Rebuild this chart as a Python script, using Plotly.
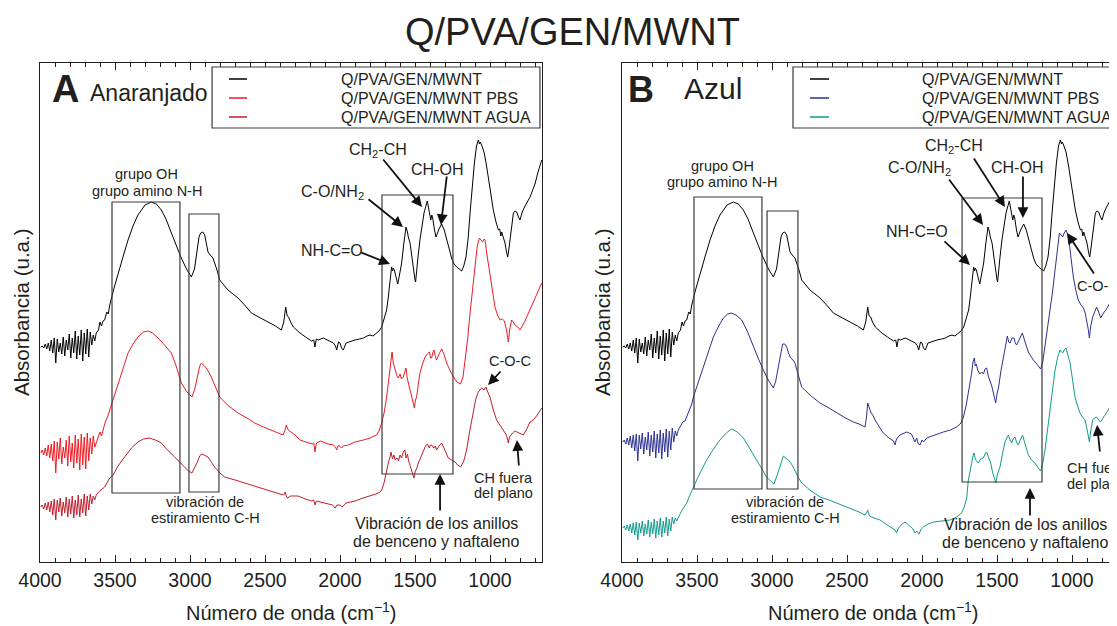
import plotly.graph_objects as go

# --- data: (wavenumber cm-1, absorbance a.u. with vertical offset) ---
espectro_base = [
    (3995, 215), (3985, 216), (3975, 214), (3965, 218), (3955, 213), (3945, 219), (3935, 211), (3925, 222),
    (3915, 209), (3905, 224), (3895, 199), (3885, 223), (3875, 210), (3865, 219), (3855, 208), (3845, 225),
    (3835, 206), (3825, 222), (3815, 212), (3805, 228), (3795, 204), (3785, 224), (3775, 209), (3765, 231),
    (3755, 203), (3745, 226), (3735, 207), (3725, 232), (3715, 201), (3705, 229), (3695, 208), (3685, 233),
    (3675, 205), (3665, 230), (3655, 217), (3645, 227), (3635, 221), (3625, 229), (3610, 232), (3600, 240),
    (3590, 236), (3580, 241), (3569, 242), (3555, 250), (3545, 248), (3535, 257), (3510, 272), (3480, 289),
    (3445, 306), (3413, 322), (3380, 336), (3347, 347), (3300, 357), (3258, 360), (3225, 358), (3191, 352),
    (3160, 343), (3124, 329), (3090, 316), (3058, 304), (3020, 292), (2991, 285), (2970, 293), (2958, 305),
    (2940, 325), (2929, 329), (2915, 330), (2902, 327), (2890, 318), (2880, 310), (2865, 307), (2847, 304),
    (2820, 292), (2802, 282), (2747, 272), (2680, 264), (2630, 256), (2591, 249), (2530, 244), (2480, 240),
    (2430, 236), (2391, 232), (2375, 240), (2362, 255), (2352, 246), (2342, 245), (2330, 240), (2311, 235),
    (2290, 232), (2267, 229), (2230, 225), (2190, 221), (2175, 222), (2167, 215), (2158, 223), (2145, 222),
    (2111, 224), (2080, 222), (2044, 219), (2030, 216), (2022, 212), (2010, 220), (2000, 219), (1990, 214),
    (1978, 212), (1960, 219), (1944, 220), (1900, 222), (1870, 223), (1844, 224), (1820, 226), (1800, 227),
    (1780, 226), (1756, 229), (1740, 231), (1722, 235), (1705, 243), (1689, 252), (1678, 265), (1667, 279),
    (1656, 295), (1650, 291), (1645, 294), (1638, 292), (1625, 282), (1615, 278), (1600, 290), (1589, 299),
    (1575, 318), (1560, 335), (1550, 330), (1545, 325), (1533, 319), (1520, 302), (1511, 292), (1500, 282),
    (1496, 280), (1490, 292), (1480, 305), (1467, 322), (1450, 340), (1440, 349), (1418, 361), (1405, 352),
    (1395, 342), (1388, 347), (1382, 344), (1370, 332), (1360, 325), (1340, 333), (1322, 338), (1305, 332),
    (1289, 322), (1270, 312), (1256, 304), (1240, 298), (1222, 295), (1189, 291), (1175, 296), (1160, 305),
    (1145, 325), (1133, 349), (1118, 378), (1104, 399), (1090, 416), (1078, 422), (1070, 418), (1065, 420),
    (1056, 417), (1040, 410), (1025, 398), (1011, 385), (995, 368), (978, 352), (960, 340), (944, 332),
    (935, 333), (928, 326), (922, 330), (910, 323), (900, 319), (890, 310), (882, 305), (875, 312),
    (867, 322), (855, 340), (844, 349), (833, 351), (822, 350), (810, 345), (800, 342), (785, 350),
    (770, 355), (733, 365), (700, 378), (680, 390), (655, 402),
]

espectro_pbs_naranja = [
    (3995, 109), (3985, 112), (3975, 107), (3965, 114), (3955, 106), (3945, 117), (3935, 104), (3925, 118),
    (3915, 101), (3905, 121), (3895, 89), (3885, 120), (3875, 103), (3865, 124), (3855, 98), (3845, 115),
    (3835, 104), (3825, 122), (3815, 96), (3805, 126), (3795, 100), (3785, 119), (3775, 94), (3765, 127),
    (3755, 99), (3745, 123), (3735, 92), (3725, 128), (3715, 97), (3705, 125), (3695, 93), (3685, 129),
    (3675, 101), (3665, 124), (3655, 108), (3645, 126), (3635, 115), (3625, 119), (3610, 124), (3600, 130),
    (3590, 126), (3580, 132), (3565, 140), (3550, 145), (3535, 152), (3510, 166), (3480, 179), (3445, 195),
    (3413, 209), (3380, 218), (3347, 225), (3310, 230), (3280, 231), (3250, 229), (3213, 224), (3170, 217),
    (3124, 209), (3090, 195), (3058, 179), (3020, 170), (2987, 165), (2970, 172), (2951, 185), (2935, 196),
    (2924, 199), (2910, 197), (2891, 194), (2875, 190), (2858, 185), (2830, 175), (2802, 165), (2750, 157),
    (2680, 149), (2620, 144), (2569, 139), (2510, 135), (2458, 132), (2420, 130), (2380, 127), (2368, 131),
    (2358, 137), (2345, 132), (2324, 130), (2300, 127), (2267, 122), (2230, 120), (2185, 118), (2175, 119),
    (2167, 110), (2160, 117), (2156, 119), (2130, 121), (2111, 120), (2080, 118), (2044, 117), (2030, 115),
    (2022, 112), (2010, 117), (1990, 114), (1978, 116), (1944, 117), (1900, 120), (1844, 122), (1800, 124),
    (1756, 127), (1740, 131), (1722, 139), (1705, 150), (1689, 165), (1678, 178), (1667, 192), (1660, 205),
    (1653, 210), (1645, 199), (1633, 192), (1620, 186), (1611, 184), (1600, 188), (1590, 183), (1578, 185),
    (1568, 190), (1560, 194), (1552, 184), (1544, 179), (1535, 172), (1522, 165), (1512, 160), (1504, 154),
    (1497, 162), (1489, 165), (1478, 178), (1467, 189), (1450, 198), (1433, 205), (1418, 208), (1404, 210),
    (1396, 204), (1389, 204), (1380, 210), (1373, 212), (1365, 206), (1356, 202), (1340, 208), (1322, 213),
    (1305, 207), (1289, 199), (1265, 191), (1244, 185), (1220, 180), (1196, 178), (1180, 185), (1167, 199),
    (1150, 222), (1133, 249), (1115, 276), (1100, 299), (1085, 316), (1071, 324), (1060, 322), (1049, 320),
    (1040, 323), (1033, 322), (1020, 307), (1004, 292), (985, 271), (967, 255), (950, 247), (933, 242),
    (918, 243), (904, 241), (890, 232), (878, 220), (868, 233), (856, 242), (845, 240), (833, 237),
    (815, 235), (800, 232), (770, 240), (733, 252), (700, 263), (655, 279),
]

espectro_agua_naranja = [
    (3995, 55), (3985, 57), (3975, 53), (3965, 59), (3955, 52), (3945, 60), (3935, 50), (3925, 61),
    (3915, 47), (3905, 63), (3895, 42), (3885, 62), (3875, 50), (3865, 64), (3855, 46), (3845, 60),
    (3835, 49), (3825, 65), (3815, 45), (3805, 63), (3795, 48), (3785, 66), (3775, 44), (3765, 62),
    (3755, 47), (3745, 67), (3735, 45), (3725, 63), (3715, 49), (3705, 68), (3695, 46), (3685, 66),
    (3675, 52), (3665, 68), (3655, 58), (3645, 66), (3635, 62), (3625, 67), (3610, 70), (3595, 72),
    (3580, 73), (3569, 75), (3550, 80), (3535, 84), (3513, 87), (3480, 96), (3436, 105), (3390, 114),
    (3347, 120), (3310, 123), (3273, 124), (3230, 122), (3191, 119), (3150, 112), (3102, 105), (3070, 100),
    (3036, 95), (3010, 91), (2987, 89), (2970, 94), (2951, 100), (2935, 106), (2924, 108), (2905, 107),
    (2880, 105), (2858, 100), (2836, 95), (2800, 89), (2769, 85), (2700, 82), (2636, 79), (2550, 75),
    (2458, 70), (2400, 68), (2375, 67), (2365, 70), (2358, 66), (2350, 64), (2330, 66), (2280, 66),
    (2230, 63), (2190, 61), (2175, 62), (2167, 57), (2158, 61), (2130, 60), (2090, 58), (2050, 57),
    (2033, 54), (2020, 57), (2000, 57), (1985, 55), (1960, 59), (1900, 61), (1847, 64), (1800, 66),
    (1760, 68), (1733, 70), (1722, 72), (1705, 80), (1689, 92), (1675, 101), (1665, 106), (1660, 110),
    (1650, 103), (1640, 107), (1633, 102), (1620, 104), (1610, 101), (1600, 107), (1590, 104), (1578, 110),
    (1567, 112), (1560, 104), (1550, 108), (1544, 102), (1530, 95), (1518, 90), (1507, 84), (1498, 91),
    (1490, 93), (1478, 99), (1460, 106), (1444, 112), (1430, 116), (1418, 118), (1405, 114), (1398, 117),
    (1389, 117), (1375, 114), (1365, 116), (1356, 112), (1340, 116), (1322, 119), (1300, 111), (1278, 104),
    (1255, 102), (1233, 100), (1215, 97), (1196, 95), (1175, 101), (1156, 112), (1135, 131), (1111, 152),
    (1095, 163), (1078, 170), (1065, 173), (1056, 174), (1040, 172), (1027, 175), (1015, 170), (1000, 165),
    (978, 152), (956, 142), (930, 136), (911, 132), (895, 128), (885, 124), (878, 119), (870, 125),
    (862, 127), (849, 129), (835, 131), (822, 130), (800, 128), (778, 127), (755, 133), (733, 140),
    (711, 142), (690, 146), (655, 154),
]

espectro_pbs_azul = [
    (3995, 120), (3985, 122), (3975, 118), (3965, 124), (3955, 117), (3945, 126), (3935, 114), (3925, 127),
    (3915, 111), (3905, 128), (3895, 101), (3885, 127), (3875, 113), (3865, 129), (3855, 108), (3845, 125),
    (3835, 112), (3825, 130), (3815, 106), (3805, 127), (3795, 110), (3785, 131), (3775, 104), (3765, 128),
    (3755, 109), (3745, 132), (3735, 103), (3725, 129), (3715, 110), (3705, 133), (3695, 105), (3685, 131),
    (3675, 112), (3665, 134), (3655, 120), (3645, 131), (3635, 126), (3625, 132), (3610, 136), (3595, 140),
    (3580, 141), (3569, 145), (3550, 153), (3535, 158), (3524, 165), (3490, 180), (3458, 195), (3425, 210),
    (3391, 225), (3355, 236), (3324, 244), (3295, 248), (3273, 249), (3240, 247), (3202, 242), (3165, 231),
    (3124, 215), (3090, 203), (3058, 192), (3025, 182), (2991, 174), (2975, 181), (2958, 195), (2940, 212),
    (2929, 218), (2915, 218), (2902, 215), (2890, 209), (2876, 204), (2860, 202), (2847, 199), (2825, 187),
    (2802, 175), (2740, 166), (2680, 159), (2620, 154), (2569, 149), (2510, 144), (2458, 140), (2420, 138),
    (2380, 135), (2370, 145), (2362, 159), (2352, 153), (2342, 150), (2325, 146), (2313, 142), (2280, 134),
    (2258, 129), (2220, 124), (2190, 121), (2180, 117), (2172, 122), (2160, 125), (2147, 127), (2102, 130),
    (2070, 128), (2047, 120), (2035, 124), (2025, 118), (2013, 117), (2000, 122), (1990, 120), (1969, 124),
    (1920, 127), (1858, 130), (1810, 132), (1769, 135), (1740, 139), (1724, 145), (1705, 157), (1691, 169),
    (1680, 180), (1669, 189), (1660, 200), (1651, 204), (1645, 196), (1638, 198), (1629, 192), (1615, 188),
    (1602, 190), (1590, 188), (1580, 193), (1569, 194), (1558, 186), (1547, 182), (1535, 176), (1524, 169),
    (1515, 164), (1509, 159), (1500, 168), (1489, 175), (1475, 190), (1458, 205), (1445, 216), (1431, 226),
    (1422, 220), (1413, 219), (1400, 224), (1387, 224), (1378, 219), (1369, 217), (1350, 223), (1331, 229),
    (1315, 221), (1291, 210), (1275, 206), (1258, 202), (1235, 198), (1209, 193), (1195, 200), (1180, 215),
    (1165, 230), (1147, 249), (1130, 270), (1113, 292), (1098, 312), (1084, 329), (1073, 327), (1062, 325),
    (1052, 329), (1040, 332), (1030, 328), (1018, 319), (1005, 302), (991, 285), (975, 272), (958, 262),
    (940, 257), (924, 254), (912, 249), (902, 242), (892, 233), (884, 224), (875, 236), (862, 245),
    (850, 250), (836, 255), (822, 250), (809, 244), (790, 249), (770, 253), (747, 259), (725, 268),
    (702, 275),
]

espectro_agua_azul = [
    (3995, 34), (3985, 36), (3975, 32), (3965, 37), (3955, 31), (3945, 38), (3935, 29), (3925, 39),
    (3915, 27), (3905, 40), (3895, 22), (3885, 39), (3875, 29), (3865, 41), (3855, 26), (3845, 38),
    (3835, 28), (3825, 42), (3815, 25), (3805, 40), (3795, 28), (3785, 43), (3775, 24), (3765, 41),
    (3755, 27), (3745, 44), (3735, 25), (3725, 41), (3715, 29), (3705, 45), (3695, 26), (3685, 43),
    (3675, 31), (3665, 45), (3655, 38), (3645, 44), (3635, 41), (3625, 45), (3610, 49), (3595, 53),
    (3580, 56), (3569, 59), (3550, 66), (3530, 73), (3502, 82), (3470, 92), (3436, 102), (3390, 113),
    (3347, 122), (3305, 129), (3269, 133), (3230, 130), (3191, 124), (3150, 114), (3102, 102), (3070, 93),
    (3036, 85), (3010, 81), (2987, 78), (2970, 85), (2951, 94), (2935, 103), (2924, 106), (2910, 104),
    (2891, 102), (2875, 99), (2858, 95), (2830, 86), (2802, 79), (2740, 71), (2680, 65), (2620, 62),
    (2569, 59), (2510, 55), (2458, 52), (2420, 50), (2380, 47), (2370, 49), (2362, 52), (2350, 46),
    (2338, 45), (2280, 42), (2240, 38), (2200, 34), (2180, 32), (2169, 29), (2160, 33), (2140, 37),
    (2113, 40), (2090, 37), (2060, 33), (2047, 29), (2035, 31), (2020, 28), (2005, 33), (1991, 35),
    (1960, 38), (1924, 40), (1870, 41), (1813, 42), (1770, 45), (1736, 49), (1718, 55), (1702, 64),
    (1691, 82), (1680, 92), (1669, 99), (1660, 106), (1653, 109), (1645, 103), (1636, 101), (1624, 99),
    (1610, 103), (1591, 104), (1580, 108), (1569, 110), (1560, 106), (1550, 101), (1542, 99), (1530, 90),
    (1518, 84), (1507, 79), (1497, 88), (1490, 92), (1480, 95), (1465, 107), (1447, 120), (1435, 124),
    (1424, 127), (1413, 122), (1402, 119), (1392, 123), (1380, 125), (1370, 120), (1358, 117), (1345, 122),
    (1329, 127), (1315, 119), (1300, 112), (1291, 107), (1270, 102), (1247, 99), (1225, 94), (1209, 91),
    (1195, 99), (1180, 112), (1165, 130), (1147, 152), (1130, 172), (1113, 192), (1095, 205), (1080, 212),
    (1071, 210), (1062, 209), (1052, 212), (1040, 214), (1028, 207), (1013, 199), (997, 183), (980, 165),
    (963, 156), (947, 149), (930, 145), (913, 142), (900, 133), (890, 125), (884, 120), (876, 130),
    (862, 142), (850, 144), (836, 145), (822, 142), (809, 140), (790, 145), (770, 149), (747, 155),
    (725, 164), (702, 172),
]

nombres = ["Q/PVA/GEN/MWNT", "Q/PVA/GEN/MWNT PBS", "Q/PVA/GEN/MWNT AGUA"]
colores_a = ["#000000", "#ed1c24", "#be1e2d"]
colores_b = ["#000000", "#2e3192", "#159a8c"]

TXT = "#231f20"
FUENTE = "Liberation Sans, Arial, sans-serif"
# la pagina tiene 8 px de margen en el body: la figura ocupa el resto de la ventana
OFF = 8
W, H = 1117 - OFF, 626 - OFF


def px_x(px):
    return (px - OFF) / W


def px_y(py):
    return 1 - (py - OFF) / H


fig = go.Figure()

paneles = [
    ("x", "y", [espectro_base, espectro_pbs_naranja, espectro_agua_naranja], colores_a),
    ("x2", "y2", [espectro_base, espectro_pbs_azul, espectro_agua_azul], colores_b),
]
for xr, yr, series, cols in paneles:
    for datos, col, nom in zip(series, cols, nombres):
        fig.add_trace(go.Scatter(
            x=[p[0] for p in datos], y=[p[1] for p in datos], mode="lines", name=nom,
            line=dict(color=col, width=1), xaxis=xr, yaxis=yr, showlegend=False))

eje_x = dict(showline=True, linecolor=TXT, linewidth=1.3, mirror="ticks", ticks="inside",
             ticklen=7, tickcolor=TXT, tickmode="linear", tick0=0, dtick=500, automargin=False,
             minor=dict(ticks="inside", ticklen=4, dtick=100, tick0=0, tickcolor=TXT),
             showgrid=False, zeroline=False, tickfont=dict(size=19.5, color=TXT, family=FUENTE))
eje_y = dict(showline=True, linecolor=TXT, linewidth=1.3, showticklabels=False, ticks="",
             automargin=False, showgrid=False, zeroline=False, range=[0, 499],
             domain=[px_y(562), px_y(63)])

fig.update_layout(
    width=W, height=H, margin=dict(l=0, r=0, t=0, b=0, autoexpand=False),
    paper_bgcolor="white", plot_bgcolor="white", showlegend=False,
    font=dict(family=FUENTE, color=TXT),
    xaxis=dict(eje_x, domain=[px_x(40), px_x(542)], range=[4000, 653.3], anchor="y"),
    yaxis=dict(eje_y, mirror=True, anchor="x"),
    xaxis2=dict(eje_x, domain=[px_x(622), 1.0], range=[4000, 700], anchor="y2"),
    yaxis2=dict(eje_y, mirror=False, anchor="x2"),
)

anots = []
formas = []


def texto(ref, x, y, t, size=16, **kw):
    anots.append(dict(xref=ref[0], yref=ref[1], x=x, y=y, text=t, showarrow=False,
                      font=dict(size=size, color=TXT, family=FUENTE), **kw))


def texto_px(cx, cy, t, size, **kw):
    anots.append(dict(xref="paper", yref="paper", x=px_x(cx), y=px_y(cy), text=t,
                      showarrow=False, xanchor="center", yanchor="middle",
                      font=dict(size=size, color=TXT, family=FUENTE), **kw))


def flecha(ref, x0, y0, x1, y1):
    anots.append(dict(xref=ref[0], yref=ref[1], axref=ref[0], ayref=ref[1],
                      x=x1, y=y1, ax=x0, ay=y0, text="", showarrow=True,
                      arrowhead=2, arrowsize=1.2, arrowwidth=1.8, arrowcolor="#111111"))


def caja(ref, x0, x1, y0, y1, fill=None):
    formas.append(dict(type="rect", xref=ref[0], yref=ref[1], x0=x0, x1=x1, y0=y0, y1=y1,
                       line=dict(color="#3a3a3a", width=1.2), fillcolor=fill, layer="above"))


# titulo general y titulos de ejes
texto_px(572, 32, "Q/PVA/GEN/MWNT", 38)
for cx in [291, 873]:
    texto_px(cx, 611, "Número de onda (cm<sup>−1</sup>)", 20)
for cx in [22, 603]:
    texto_px(cx, 312, "Absorbancia (u.a.)", 20.5, textangle=-90)

# ---- panel A ----
A = ("x", "y")
texto(A, 3827, 473, "<b>A</b>", size=38)
texto(A, 3680, 469, "Anaranjado", size=23, xanchor="left")
caja(A, 2853, 667, 434, 495, fill="white")
for h, col, nom in zip([483, 464, 445], colores_a, nombres):
    formas.append(dict(type="line", xref="x", yref="y", x0=2740, x1=2620, y0=h, y1=h,
                       line=dict(color=col, width=1.5)))
    texto(A, 2007, h, nom, size=16, xanchor="left")
texto(A, 3287, 388, "grupo OH", size=14.5)
texto(A, 3287, 371, "grupo amino N-H", size=14.5)
caja(A, 3520, 3067, 69, 360)
caja(A, 3007, 2807, 70, 348)
caja(A, 1720, 1247, 88, 367)
texto(A, 1747, 412, "CH<sub>2</sub>-CH")
texto(A, 1353, 393, "CH-OH")
texto(A, 2047, 370, "C-O/NH<sub>2</sub>")
texto(A, 2053, 312, "NH-C=O")
flecha(A, 1720, 404, 1453, 355)
flecha(A, 1820, 364, 1580, 335)
flecha(A, 1287, 387, 1327, 337)
flecha(A, 1867, 310, 1667, 298)
texto(A, 2900, 60, "vibración de", size=14.5)
texto(A, 2900, 44, "estiramiento C-H", size=14.5)
texto(A, 1360, 39, "Vibración de los anillos")
texto(A, 1360, 21, "de benceno y naftaleno")
flecha(A, 1333, 50, 1333, 88)
texto(A, 867, 201, "C-O-C", size=14.5)
flecha(A, 920, 192, 1013, 177)
texto(A, 907, 84, "CH fuera", size=14.5)
texto(A, 907, 69, "del plano", size=14.5)
flecha(A, 807, 95, 820, 122)

# ---- panel B ----
B = ("x2", "y2")
texto(B, 3873, 473, "<b>B</b>", size=36)
texto(B, 3600, 474, "Azul", size=30, xanchor="left")
caja(B, 2860, 500, 434, 495, fill="white")
for h, col, nom in zip([483, 464, 445], colores_b, nombres):
    formas.append(dict(type="line", xref="x2", yref="y2", x0=2747, x1=2620, y0=h, y1=h,
                       line=dict(color=col, width=1.5)))
    texto(B, 2013, h, nom, size=16, xanchor="left")
texto(B, 3333, 396, "grupo OH", size=14.5)
texto(B, 3333, 380, "grupo amino N-H", size=14.5)
caja(B, 3520, 3067, 73, 365)
caja(B, 3033, 2827, 73, 351)
caja(B, 1733, 1200, 80, 364)
texto(B, 1787, 416, "CH<sub>2</sub>-CH")
texto(B, 2020, 394, "C-O/NH<sub>2</sub>")
texto(B, 1367, 395, "CH-OH")
texto(B, 2033, 331, "NH-C=O")
flecha(B, 1660, 405, 1447, 355)
flecha(B, 1827, 384, 1593, 337)
flecha(B, 1327, 387, 1327, 344)
flecha(B, 1860, 322, 1680, 297)
texto(B, 2913, 60, "vibración de", size=14.5)
texto(B, 2913, 44, "estiramiento C-H", size=14.5)
texto(B, 1313, 38, "Vibración de los anillos")
texto(B, 1313, 20, "de benceno y naftaleno")
flecha(B, 1280, 45, 1280, 74)
texto(B, 980, 276, "C-O-C", size=14.5, xanchor="left")
flecha(B, 847, 287, 1033, 329)
texto(B, 1047, 94, "CH fuera", size=14.5, xanchor="left")
texto(B, 1047, 78, "del plano", size=14.5, xanchor="left")
flecha(B, 813, 109, 833, 137)

fig.update_layout(annotations=anots, shapes=formas)
fig.write_html("out.html")
